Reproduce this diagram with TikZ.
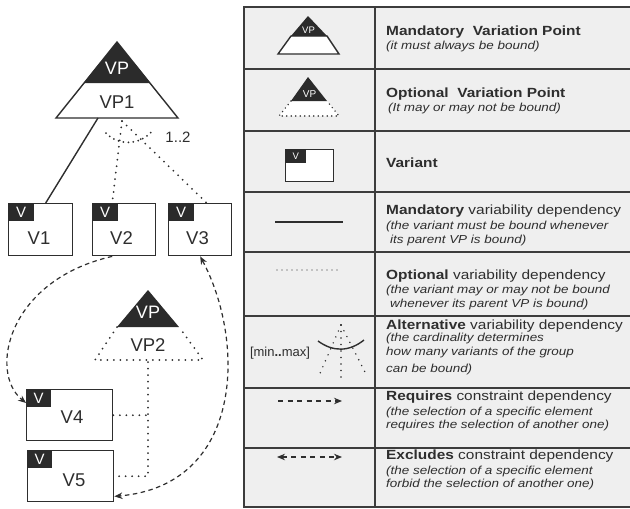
\documentclass[tikz,border=0pt]{standalone}
\usepackage{fontspec}
\setmainfont{Liberation Sans}
\newfontfamily\lgfont[FakeStretch=1.16]{Liberation Sans}
\usetikzlibrary{arrows.meta}
\definecolor{ink}{HTML}{2E2E2E}
\definecolor{blk}{HTML}{2B2B2B}
\definecolor{tbg}{HTML}{EFEFEF}
\definecolor{tln}{HTML}{3C3C3C}
\begin{document}
\begin{tikzpicture}[x=1pt,y=-1pt,
  solidln/.style={draw=ink, line width=1.4pt},
  dotln/.style={draw=ink, line width=2pt, line cap=round, dash pattern=on 0pt off 6.5pt},
  sdotln/.style={draw=ink, line width=1.6pt, line cap=round, dash pattern=on 0pt off 5pt},
  dashln/.style={draw=ink, line width=1.2pt, dash pattern=on 4.5pt off 3.5pt},
  tipend/.style={-{Stealth[length=8pt,width=6.5pt]}},
  tipboth/.style={{Stealth[length=8pt,width=6.5pt]}-{Stealth[length=8pt,width=6.5pt]}},
  vbox/.style={draw=ink, line width=1.4pt, fill=white, anchor=north west, inner sep=0pt},
  vtab/.style={fill=blk, anchor=north west, inner sep=0pt, text=white},
  lbl/.style={inner sep=0pt, text=ink},
  bigtxt/.style={lbl, font=\fontsize{18.5}{20}\selectfont},
  lgb/.style={inner sep=0pt, anchor=base west, text=ink, font=\lgfont\fontsize{13.3}{16}\selectfont},
  lgi/.style={inner sep=0pt, anchor=base west, text=ink, font=\lgfont\itshape\fontsize{11.6}{14}\selectfont},
  tline/.style={draw=tln, line width=1.8pt}
]
\useasboundingbox (0,0) rectangle (630,509);

% ---------------- table ----------------
\fill[tbg] (244,7) rectangle (630,507);
\draw[tline] (630,7) -- (244,7) -- (244,507) -- (630,507);
\draw[tline] (375,7) -- (375,507);
\foreach \yy in {69,131,192,252,316,388,448} \draw[tline] (244,\yy) -- (630,\yy);

% ---------------- left diagram: VP1 ----------------
\filldraw[fill=white, draw=ink, line width=1.4pt] (117,42) -- (178,118) -- (56,118) -- cycle;
\fill[blk] (117,42) -- (150,83) -- (84,83) -- cycle;
\node[lbl, text=white, font=\fontsize{18}{20}\selectfont] (vp1t) at (117,68.5) {VP};
\node[bigtxt] (vp1n) at (117,102) {VP1};
\coordinate (vp1m) at (98,118);
\coordinate (vp1o) at (122,121);

% variants V1..V3
\node[vbox, minimum width=64pt, minimum height=52pt] (v1) at (8,203) {};
\node[vbox, minimum width=63pt, minimum height=52pt] (v2) at (92,203) {};
\node[vbox, minimum width=63pt, minimum height=52pt] (v3) at (168,203) {};
\foreach \n in {v1,v2,v3}
  \node[vtab, minimum width=26pt, minimum height=18pt, font=\fontsize{15}{16}\selectfont] (\n tab) at (\n.north west) {V};
\node[bigtxt] (v1t) at (39,238) {V1};
\node[bigtxt] (v2t) at (121.5,238) {V2};
\node[bigtxt] (v3t) at (197.5,238) {V3};

\draw[solidln] (vp1m) -- ([xshift=5pt]v1.north);
\draw[dotln] (vp1o) -- ([xshift=-12pt]v2.north);
\draw[dotln] (vp1o) -- ([xshift=6.5pt]v3.north);
\draw[dotln, dash pattern=on 0pt off 5pt] (106,133) .. controls (118,146) and (140,146) .. (153,130);
\node[lbl, font=\fontsize{15}{16}\selectfont] (card) at (178,137) {1..2};

% ---------------- left diagram: VP2 ----------------
\fill[white] (117,327) -- (179,327) -- (203,360) -- (95,360) -- cycle;
\fill[blk] (148,290) -- (179,327) -- (117,327) -- cycle;
\draw[dotln] (117,327) -- (95,360) -- (203,360) -- (179,327);
\node[lbl, text=white, font=\fontsize{18}{20}\selectfont] (vp2t) at (148,312.5) {VP};
\node[bigtxt] (vp2n) at (148,345) {VP2};
\coordinate (vp2b) at (148,362);

\node[vbox, minimum width=86pt, minimum height=51pt] (v4) at (26,389) {};
\node[vbox, minimum width=86pt, minimum height=51pt] (v5) at (27,450) {};
\foreach \n in {v4,v5}
  \node[vtab, minimum width=25pt, minimum height=17.5pt, font=\fontsize{15}{16}\selectfont] (\n tab) at (\n.north west) {V};
\node[bigtxt] (v4t) at (72,417.5) {V4};
\node[bigtxt] (v5t) at (74,480.5) {V5};

\coordinate (j5) at (vp2b |- v5.east);
\coordinate (j4) at (vp2b |- v4.east);
\draw[dotln] (vp2b) -- (j5) -- (v5.east);
\draw[dotln] (v4.east) -- (j4);

% constraint dependencies
\coordinate (v4in) at ([yshift=-14pt]v4.north west);
\draw[dashln, tipend] ([xshift=-12pt]v2.south) .. controls (8,280) and (-12,372) .. (v4in);
\coordinate (v5in) at ([yshift=6pt]v5.south east);
\draw[dashln, tipboth] (v3.south) .. controls (245,340) and (245,485) .. (v5in);

% ---------------- legend icons ----------------
% row 1
\filldraw[fill=white, draw=ink, line width=1.4pt] (291,36) -- (327,36) -- (339,54) -- (278,54) -- cycle;
\fill[blk] (308,16) -- (327,36) -- (291,36) -- cycle;
\node[lbl, text=white, font=\fontsize{9.5}{10}\selectfont] (lvp1) at (308.5,30.5) {VP};
% row 2
\fill[white] (291,101) -- (327,101) -- (339,116) -- (279,116) -- cycle;
\fill[blk] (308,77) -- (327,101) -- (291,101) -- cycle;
\draw[sdotln, dash pattern=on 0pt off 4.5pt] (291,101) -- (279,116) -- (339,116) -- (327,101);
\node[lbl, text=white, font=\fontsize{10}{11}\selectfont] (lvp2) at (309.5,94) {VP};
% row 3
\node[vbox, minimum width=48pt, minimum height=32pt] (lv) at (285,149) {};
\node[vtab, minimum width=21pt, minimum height=14pt, font=\fontsize{9.5}{10}\selectfont] (lvtab) at (lv.north west) {V};
% row 4
\coordinate (m1) at (275,222); \coordinate (m2) at (343,222);
\draw[draw=ink, line width=1.8pt] (m1) -- (m2);
% row 5
\coordinate (o1) at (277,270); \coordinate (o2) at (339,270);
\draw[sdotln, line width=1.4pt] (o1) -- (o2);
% row 6
\node[lbl, font=\fontsize{13}{14}\selectfont] (mm) at (280,353) {[min\textbf{..}max]};
\coordinate (ap) at (341,325);
\draw[ink, line width=1.4pt] (318,341) .. controls (333,352) and (349,352) .. (364,340);
\draw[sdotln, dash pattern=on 0pt off 6.5pt] (ap) -- (318,378);
\draw[sdotln, dash pattern=on 0pt off 6.5pt] (ap) -- (341,379);
\draw[sdotln, dash pattern=on 0pt off 6.5pt] (ap) -- (367,376);
% row 7
\coordinate (r1) at (278,401); \coordinate (r2) at (342,401);
\draw[dashln, dash pattern=on 5pt off 4.5pt, tipend] (r1) -- (r2);
% row 8
\coordinate (e1) at (277,457); \coordinate (e2) at (342,457);
\draw[dashln, dash pattern=on 5pt off 4.5pt, tipboth] (e1) -- (e2);

% ---------------- legend texts ----------------
\node[lgb] (t1a) at (386,35) {\bfseries Mandatory\ \ Variation Point};
\node[lgi] (t1b) at (386,49.5) {(it must always be bound)};
\node[lgb] (t2a) at (386,97) {\bfseries Optional\ \ Variation Point};
\node[lgi] (t2b) at (388,111.5) {(It may or may not be bound)};
\node[lgb] (t3a) at (386,167) {\bfseries Variant};
\node[lgb] (t4a) at (386,214) {\textbf{Mandatory} variability dependency};
\node[lgi] (t4b) at (386,229) {(the variant must be bound whenever};
\node[lgi] (t4c) at (390,243) {its parent VP is bound)};
\node[lgb] (t5a) at (386,279) {\textbf{Optional} variability dependency};
\node[lgi] (t5b) at (386,293.5) {(the variant may or may not be bound};
\node[lgi] (t5c) at (390,307.5) {whenever its parent VP is bound)};
\node[lgb] (t6a) at (386,329) {\textbf{Alternative} variability dependency};
\node[lgi] (t6b) at (386,341.5) {(the cardinality determines};
\node[lgi] (t6c) at (386,355.5) {how many variants of the group};
\node[lgi] (t6d) at (386,372.5) {can be bound)};
\node[lgb] (t7a) at (386,400) {\textbf{Requires} constraint dependency};
\node[lgi] (t7b) at (386,415.5) {(the selection of a specific element};
\node[lgi] (t7c) at (386,428.5) {requires the selection of another one)};
\node[lgb] (t8a) at (386,459) {\textbf{Excludes} constraint dependency};
\node[lgi] (t8b) at (386,474.5) {(the selection of a specific element};
\node[lgi] (t8c) at (386,487.5) {forbid the selection of another one)};
\end{tikzpicture}
\end{document}
